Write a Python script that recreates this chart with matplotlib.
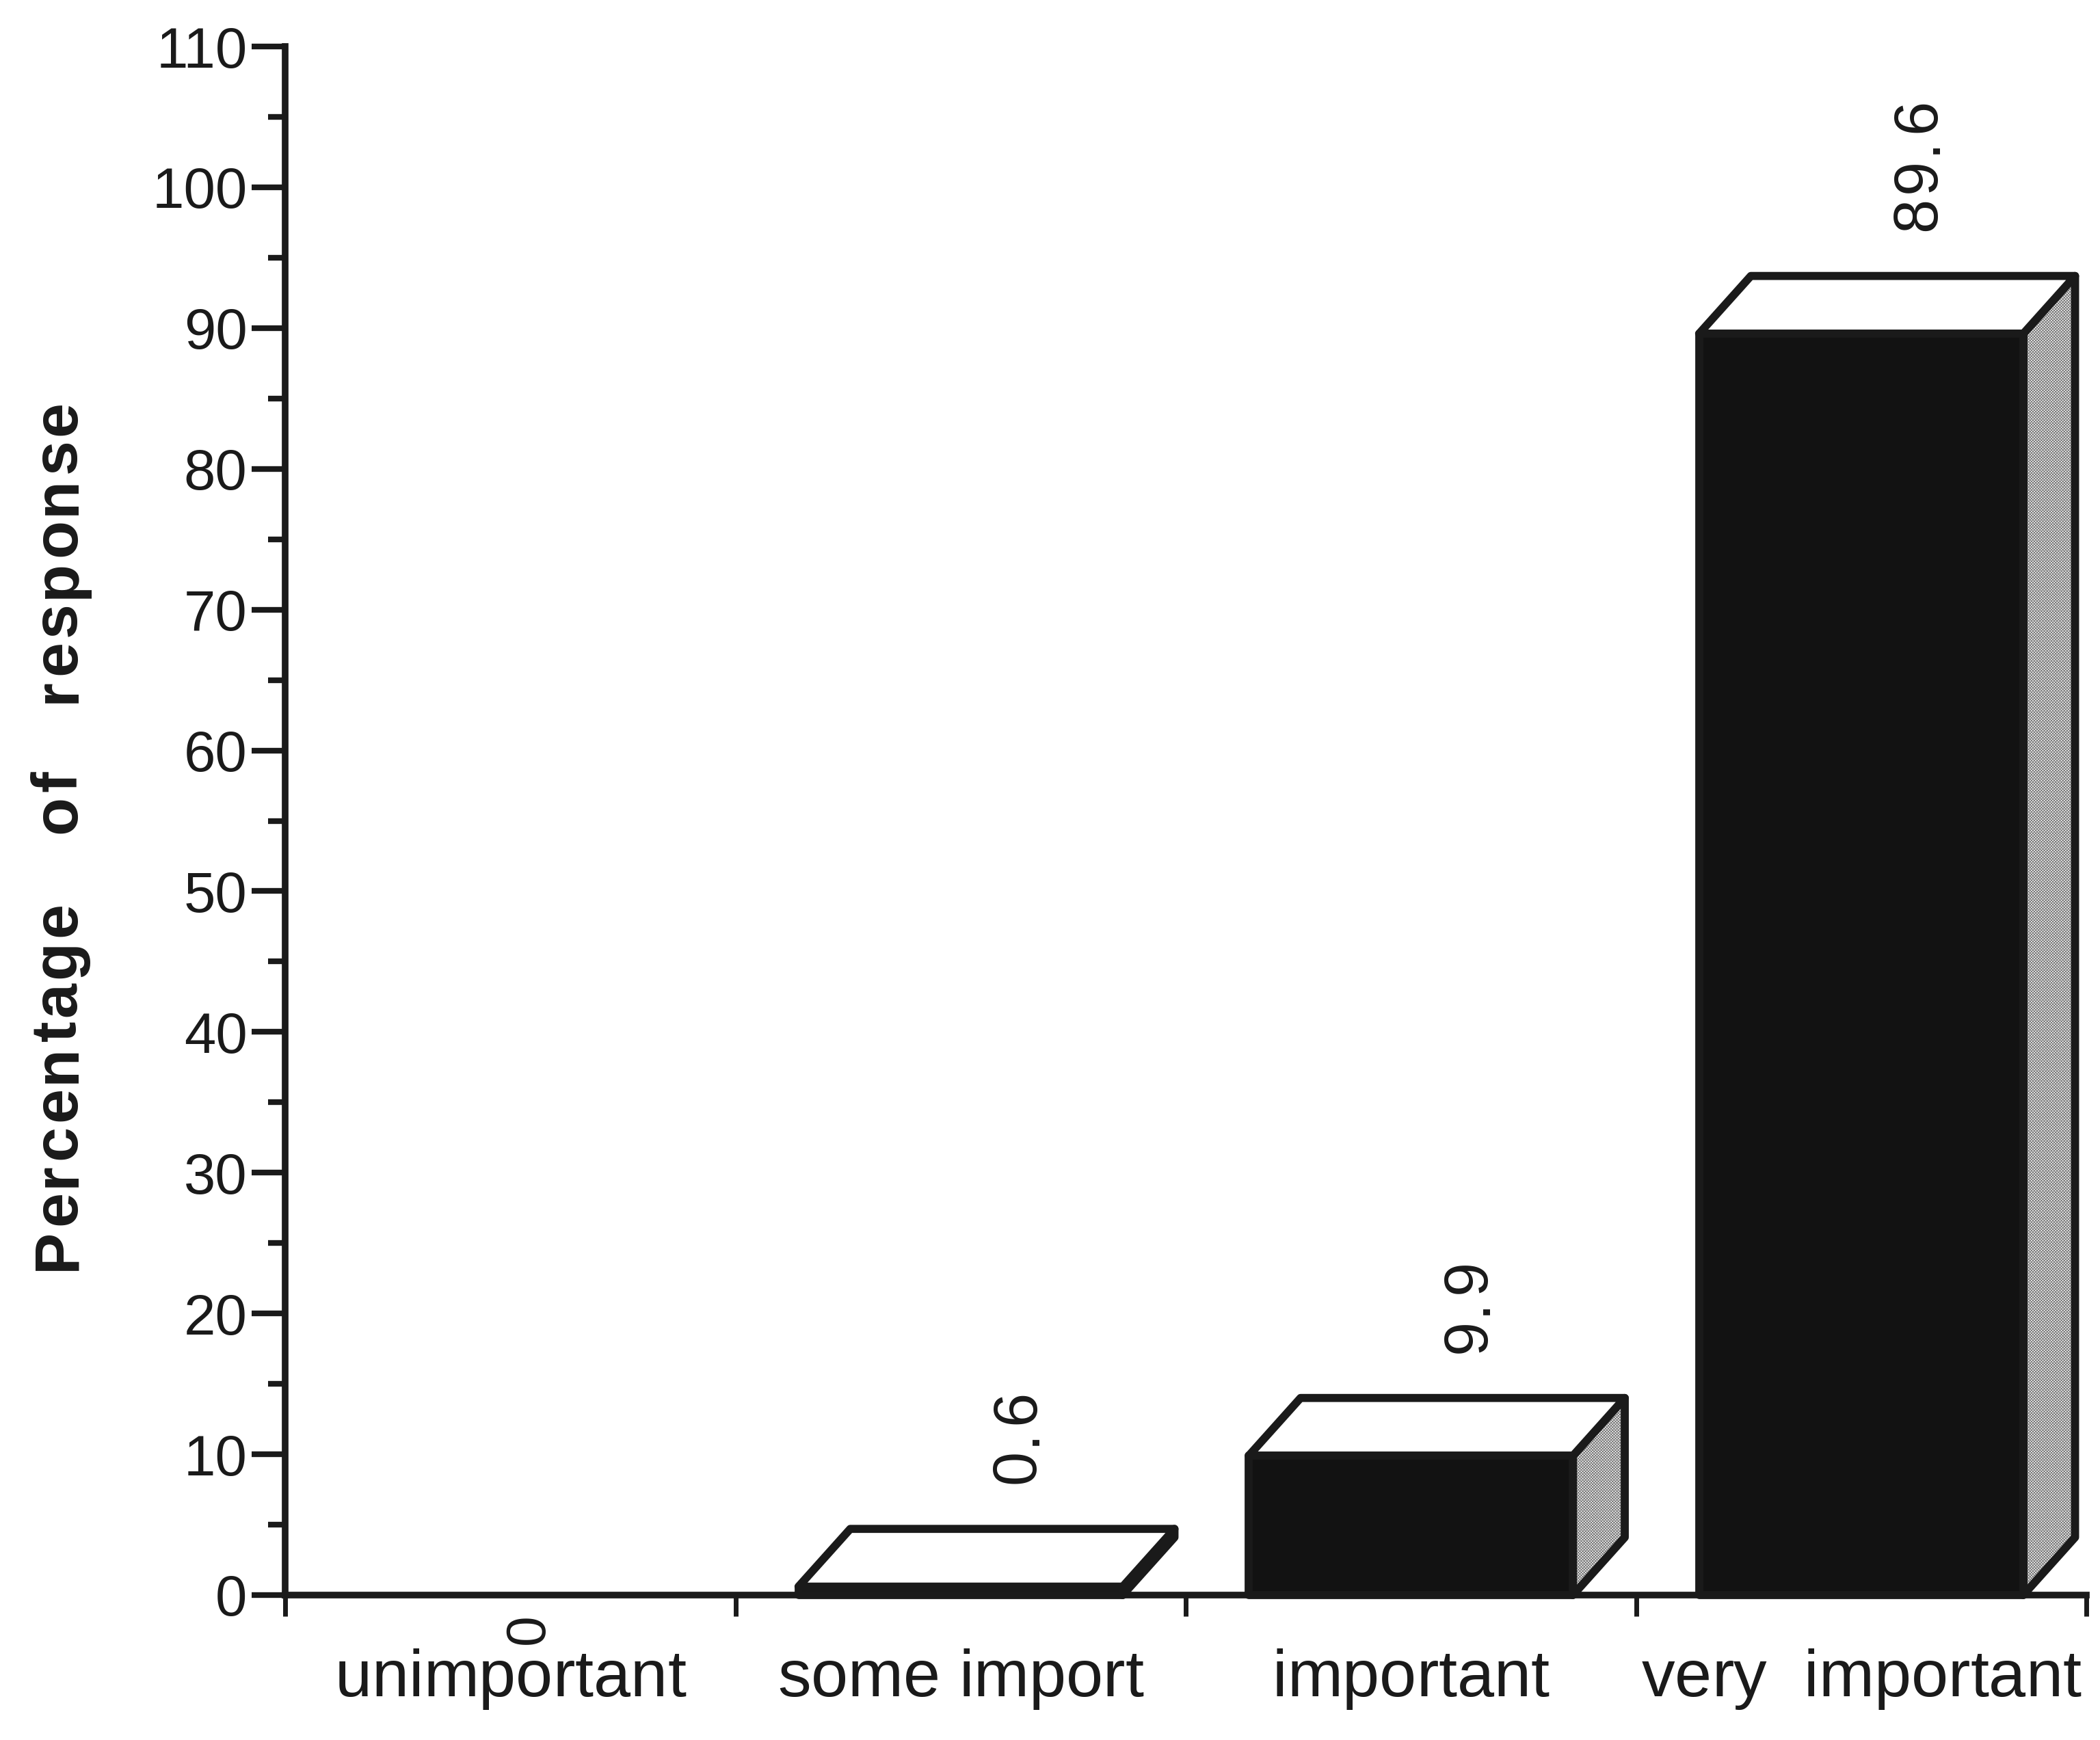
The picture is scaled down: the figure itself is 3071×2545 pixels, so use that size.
import matplotlib
matplotlib.use("Agg")
import matplotlib.pyplot as plt
import numpy as np
from matplotlib.patches import Polygon
from matplotlib.transforms import IdentityTransform
from matplotlib.font_manager import FontProperties, findfont, get_font

# ---- data -------------------------------------------------------------
categories = ["unimportant", "some import", "important", "very  important"]
percentages = [0.0, 0.6, 9.9, 89.6]
value_labels = ["0", "0.6", "9.9", "89.6"]
y_major = list(range(0, 111, 10))
y_minor = list(range(5, 110, 10))
y_label_words = ["Percentage", "of", "response"]

# ---- figure setup -----------------------------------------------------
W, H, DPI = 3071, 2545, 100
INK = "#1a1a1a"
FONT = "Liberation Sans"
plt.rcParams["font.family"] = [FONT, "DejaVu Sans"]
plt.rcParams["hatch.linewidth"] = 0.8

fig = plt.figure(figsize=(W / DPI, H / DPI), dpi=DPI, facecolor="white")
ax = fig.add_axes([417 / W, 212 / H, (3051 - 417) / W, (2477 - 212) / H])
ax.set_xlim(0, 4)
ax.set_ylim(0, 110)
ax.set_facecolor("white")

for side in ("top", "right"):
    ax.spines[side].set_visible(False)
for side in ("left", "bottom"):
    ax.spines[side].set_linewidth(7)
    ax.spines[side].set_color(INK)
    ax.spines[side].set_capstyle("projecting")

ax.set_yticks(y_major)
ax.set_yticks(y_minor, minor=True)
ax.tick_params(axis="y", which="major", direction="out", length=35, width=6,
               pad=5, labelsize=60, color=INK, labelcolor=INK)
ax.tick_params(axis="y", which="minor", direction="out", length=18, width=6,
               color=INK)
ax.set_xticks(np.arange(len(categories) + 1))
ax.set_xticklabels([])
ax.tick_params(axis="x", which="major", direction="out", length=22, width=5,
               color=INK)

# ---- 3-D looking bars -------------------------------------------------
bar_w = 0.72
depth_x = 0.115
depth_y = 4.1
centers = np.arange(len(categories)) + 0.5
edge_lw = 8.5

for c, v in zip(centers, percentages):
    if v <= 0:
        continue
    x0, x1 = c - bar_w / 2, c + bar_w / 2
    side_pts = [(x1, 0), (x1, v), (x1 + depth_x, v + depth_y), (x1 + depth_x, depth_y)]
    top_pts = [(x0, v), (x0 + depth_x, v + depth_y), (x1 + depth_x, v + depth_y), (x1, v)]
    ax.add_patch(Polygon(side_pts, closed=True, facecolor="white", edgecolor="#7a7a7a",
                         hatch="xxxxxxxx", linewidth=0, zorder=2, clip_on=False))
    ax.add_patch(Polygon(side_pts, closed=True, fill=False, edgecolor=INK,
                         linewidth=edge_lw, joinstyle="round", zorder=3, clip_on=False))
    ax.add_patch(Polygon(top_pts, closed=True, facecolor="white", edgecolor=INK,
                         linewidth=edge_lw, joinstyle="round", zorder=3, clip_on=False))

ax.bar([c for c, v in zip(centers, percentages) if v > 0],
       [v for v in percentages if v > 0], width=bar_w, color="#121212",
       edgecolor=INK, linewidth=edge_lw, joinstyle="round", zorder=4, clip_on=False)


# ---- letter-spaced text helper ---------------------------------------
def advances(text, prop):
    font = get_font(findfont(prop))
    font.set_size(prop.get_size_in_points(), DPI)
    return [font.load_char(ord(ch)).linearHoriAdvance / 65536 for ch in text]


def spaced_text(x, y, text, size, weight="normal", track=0.0, rotation=0,
                anchor="center", word_gap=None):
    prop = FontProperties(family=FONT, size=size, weight=weight)
    adv = advances(text, prop)
    offsets, pos = [], 0.0
    for ch, a in zip(text, adv):
        offsets.append(pos)
        step = word_gap if (ch == " " and word_gap is not None) else a + track
        pos += step
    total = pos - track
    along = x if rotation == 0 else y
    start = along - total / 2 if anchor == "center" else along
    for ch, off in zip(text, offsets):
        if ch == " ":
            continue
        if rotation == 0:
            fig.text(start + off, y, ch, fontproperties=prop, color=INK,
                     ha="left", va="baseline", transform=IdentityTransform())
        else:
            fig.text(x, start + off, ch, fontproperties=prop, color=INK,
                     rotation=90, rotation_mode="anchor", ha="left",
                     va="baseline", transform=IdentityTransform())


fig.canvas.draw()

# value labels, rotated, above each bar
val_size = 65
cap = 0.716 * val_size * DPI / 72
for c, v, lab in zip(centers, percentages, value_labels):
    if v > 0:
        px, py = ax.transData.transform((c + depth_x, v + depth_y + 3.2))
        spaced_text(px + cap / 2, py, lab, val_size, track=6, rotation=90,
                    anchor="start")
    else:
        px, py = ax.transData.transform((c + 0.025, -2.4))
        spaced_text(px + cap / 2, py, lab, 58, track=6, rotation=90,
                    anchor="center")

# category labels under the axis
for c, name in zip(centers, categories):
    px, _ = ax.transData.transform((c, 0))
    spaced_text(px, 64, name, 70)

# y-axis title
spaced_text(110, H - 1222, " ".join(y_label_words), 66, weight="bold",
            track=5, rotation=90, anchor="center", word_gap=95)

fig.savefig("out.png", dpi=DPI, facecolor="white")
